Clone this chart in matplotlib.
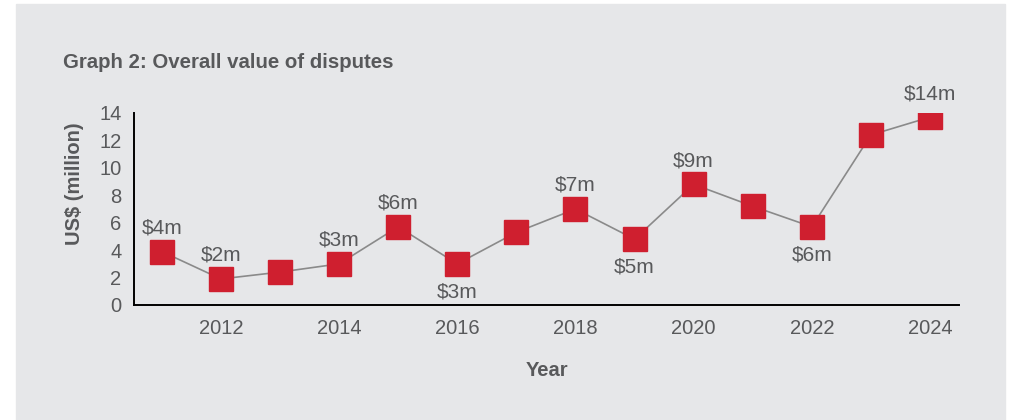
import matplotlib
matplotlib.use("Agg")
import matplotlib.pyplot as plt
from matplotlib.patches import Rectangle

# values (US$ million)
years = [2011, 2012, 2013, 2014, 2015, 2016, 2017, 2018, 2019, 2020, 2021, 2022, 2023, 2024]
values = [3.9, 1.9, 2.4, 3.0, 5.7, 3.0, 5.3, 7.0, 4.8, 8.8, 7.2, 5.7, 12.4, 13.7]
# labelled points: year -> (text, placed above?)
labels = {
    2011: ("$4m", True), 2012: ("$2m", True), 2014: ("$3m", True),
    2015: ("$6m", True), 2016: ("$3m", False), 2018: ("$7m", True),
    2019: ("$5m", False), 2020: ("$9m", True), 2022: ("$6m", False),
    2024: ("$14m", True),
}
y_ticks = [0, 2, 4, 6, 8, 10, 12, 14]
x_ticks = [2012, 2014, 2016, 2018, 2020, 2022, 2024]

plt.rcParams['font.family'] = ['Liberation Sans', 'DejaVu Sans']
grey_text = '#58595b'
panel = '#e6e7e9'
red = '#cf1f2f'

fig = plt.figure(figsize=(10.11, 4.2), dpi=100, facecolor='white')
fig.patches.append(Rectangle((16 / 1011, 0), (1005 - 16) / 1011, 1 - 4 / 420,
                             transform=fig.transFigure, color=panel, zorder=-5))

ax = fig.add_axes([134 / 1011, 1 - 305 / 420, (959 - 134) / 1011, 192 / 420])
ax.set_zorder(2)
ax.patch.set_alpha(0)

ax.plot(years, values, color='#8a8a8a', lw=1.2, zorder=2)
ax.plot(years, values, ls='none', marker='s', ms=17, color=red, zorder=3)

for yr, val in zip(years, values):
    if yr in labels:
        txt, above = labels[yr]
        off = 17 if above else -20
        ax.annotate(txt, (yr, val), xytext=(0, off), textcoords='offset points',
                    ha='center', va='center', fontsize=15, color=grey_text)

ax.set_xlim(2010.53, 2024.49)
ax.set_ylim(0, 14)
ax.set_xticks(x_ticks)
ax.set_yticks(y_ticks)
ax.tick_params(length=0, labelsize=14.5, labelcolor=grey_text)
ax.tick_params(axis='x', pad=10)
ax.tick_params(axis='y', pad=9)

for s in ['top', 'right']:
    ax.spines[s].set_visible(False)
for s in ['left', 'bottom']:
    ax.spines[s].set_linewidth(1.4)
    ax.spines[s].set_color('black')

ax.set_ylabel('US$ (million)', fontsize=14.5, color=grey_text, fontweight='bold')
ax.yaxis.set_label_coords(-0.061, 0.633)
ax.set_xlabel('Year', fontsize=14.5, color=grey_text, fontweight='bold', labelpad=17)

fig.text(63 / 1011, 1 - 62 / 420, 'Graph 2: Overall value of disputes', fontsize=14.7,
         color=grey_text, fontweight='bold', va='center', ha='left')

fig.savefig('out.png', dpi=100, facecolor='white')
